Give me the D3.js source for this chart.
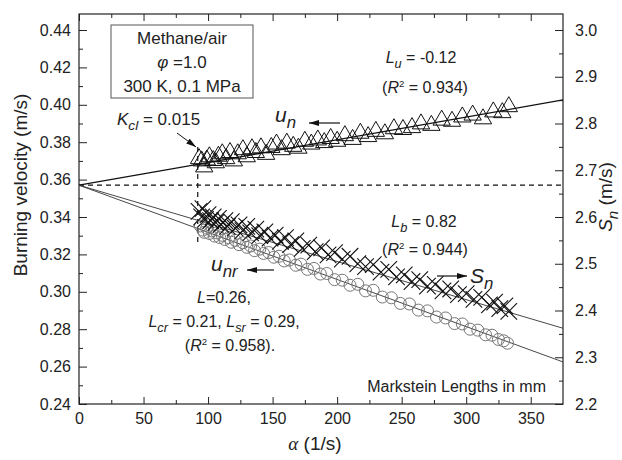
<!DOCTYPE html>
<html>
<head>
<meta charset="utf-8">
<script src="https://cdn.jsdelivr.net/npm/d3@7"></script>
<style>
body { margin: 0; background: #fff; }
text { font-family: "Liberation Sans", Arial, sans-serif; fill: #222; }
</style>
</head>
<body>
<svg id="drawing_region"></svg>
<script>
// u_n (triangles, left axis)
const alphaUn = [93, 95, 97, 99, 101, 104, 106, 108, 111, 114, 117, 120, 123, 127, 130, 134, 137, 141, 145, 149,
    153, 157, 161, 166, 170, 175, 180, 185, 190, 195, 200, 206, 212, 218, 224, 230, 237, 244, 251, 258,
    265, 273, 281, 289, 297, 305, 313, 321, 328, 333];
const unVals = [0.3712, 0.3700, 0.3668, 0.3705, 0.3722, 0.3702, 0.3690, 0.3725, 0.3738, 0.3712, 0.3745, 0.3700,
    0.3738, 0.3760, 0.3722, 0.3765, 0.3745, 0.3770, 0.3735, 0.3772, 0.3790, 0.3760, 0.3795, 0.3778, 0.3768,
    0.3805, 0.3790, 0.3812, 0.3798, 0.3820, 0.3805, 0.3835, 0.3815, 0.3848, 0.3830, 0.3858, 0.3845, 0.3872,
    0.3868, 0.3878, 0.3898, 0.3890, 0.3918, 0.3912, 0.3935, 0.3945, 0.3925, 0.3962, 0.3958, 0.3990];

// S_n (crosses, right axis)
const alphaSn = [93, 95, 96, 98, 100, 102, 104, 106, 108, 110, 113, 115, 118, 121, 124, 127, 130, 133, 137, 140,
    144, 148, 152, 156, 160, 164, 168, 173, 178, 183, 188, 193, 198, 204, 210, 216, 222, 228, 234, 240,
    246, 252, 258, 264, 270, 276, 282, 288, 294, 300, 306, 312, 318, 322, 326, 330, 333];
const snVals = [2.612, 2.600, 2.618, 2.595, 2.605, 2.592, 2.600, 2.588, 2.597, 2.584, 2.592, 2.580, 2.590, 2.576,
    2.583, 2.571, 2.580, 2.566, 2.574, 2.560, 2.568, 2.555, 2.561, 2.548, 2.556, 2.541, 2.549, 2.533, 2.540,
    2.526, 2.534, 2.519, 2.524, 2.510, 2.516, 2.500, 2.494, 2.498, 2.482, 2.488, 2.472, 2.476, 2.462, 2.466,
    2.452, 2.456, 2.442, 2.446, 2.434, 2.436, 2.424, 2.428, 2.412, 2.418, 2.404, 2.410, 2.398];

// u_nr (circles, left axis)
const alphaUnr = [94, 96, 97, 99, 101, 103, 105, 107, 109, 111, 113, 116, 118, 121, 124, 127, 130, 133, 136, 140,
    143, 147, 151, 155, 159, 163, 168, 172, 177, 182, 187, 192, 198, 204, 210, 216, 222, 228, 235, 242,
    249, 256, 263, 270, 277, 284, 291, 297, 303, 309, 315, 320, 325, 329, 332];
const unrVals = [0.3352, 0.3330, 0.3318, 0.3340, 0.3312, 0.3325, 0.3298, 0.3315, 0.3290, 0.3302, 0.3280, 0.3290,
    0.3265, 0.3275, 0.3252, 0.3262, 0.3238, 0.3245, 0.3220, 0.3228, 0.3205, 0.3210, 0.3185, 0.3190, 0.3165,
    0.3170, 0.3142, 0.3148, 0.3120, 0.3125, 0.3095, 0.3098, 0.3065, 0.3062, 0.3035, 0.3040, 0.3005, 0.3008,
    0.2972, 0.2968, 0.2938, 0.2935, 0.2902, 0.2898, 0.2865, 0.2860, 0.2830, 0.2828, 0.2800, 0.2795, 0.2770,
    0.2768, 0.2745, 0.2738, 0.2725];

// fitted lines
const fitAlpha = [0, 375];
const fitUn = [0.357, 0.4026];
const fitSn = [2.668, 2.362];
const fitUnr = [0.357, 0.2625];
const refVelocity = 0.357;
const kclAlpha = 92;
const kclSpan = [0.3261, 0.3774];

// ticks
const xTicks = [0, 50, 100, 150, 200, 250, 300, 350];
const xMinor = [25, 75, 125, 175, 225, 275, 325];
const yTicks = [0.24, 0.26, 0.28, 0.30, 0.32, 0.34, 0.36, 0.38, 0.40, 0.42, 0.44];
const yMinor = [0.25, 0.27, 0.29, 0.31, 0.33, 0.35, 0.37, 0.39, 0.41, 0.43];
const rTicks = [2.2, 2.3, 2.4, 2.5, 2.6, 2.7, 2.8, 2.9, 3.0];
const rMinor = [2.25, 2.35, 2.45, 2.55, 2.65, 2.75, 2.85, 2.95];

const W = 622, H = 460;
const m = {left: 79, right: 563, top: 14, bottom: 404};

const svg = d3.select('#drawing_region')
    .attr('width', W)
    .attr('height', H);

svg.append('rect').attr('width', W).attr('height', H).attr('fill', '#fff');

const defs = svg.append('defs');
defs.append('marker')
    .attr('id', 'ah')
    .attr('markerUnits', 'userSpaceOnUse')
    .attr('markerWidth', 10).attr('markerHeight', 6)
    .attr('refX', 10).attr('refY', 3)
    .attr('orient', 'auto')
    .append('path')
    .attr('d', 'M0,0 L10,3 L0,6 z')
    .attr('fill', '#111');

const xs = d3.scaleLinear().domain([0, 375]).range([m.left, m.right]);
const yl = d3.scaleLinear().domain([0.24, 0.44]).range([m.bottom, 30]);
const yr = d3.scaleLinear().domain([2.2, 3.0]).range([m.bottom, 30]);

// axes
function noDomain(g) { g.select('.domain').remove(); }

svg.append('g').attr('transform', `translate(${m.left},0)`)
    .call(d3.axisLeft(yl).tickValues(yTicks).tickSize(-8).tickPadding(8).tickFormat(d3.format('.2f')))
    .call(noDomain);
svg.append('g').attr('transform', `translate(${m.left},0)`)
    .call(d3.axisLeft(yl).tickValues(yMinor).tickSize(-4).tickFormat(''))
    .call(noDomain);
svg.append('g').attr('transform', `translate(${m.right},0)`)
    .call(d3.axisRight(yr).tickValues(rTicks).tickSize(-8).tickPadding(12).tickFormat(d3.format('.1f')))
    .call(noDomain);
svg.append('g').attr('transform', `translate(${m.right},0)`)
    .call(d3.axisRight(yr).tickValues(rMinor).tickSize(-4).tickFormat(''))
    .call(noDomain);
svg.append('g').attr('transform', `translate(0,${m.bottom})`)
    .call(d3.axisBottom(xs).tickValues(xTicks).tickSize(-7).tickPadding(9))
    .call(noDomain);
svg.append('g').attr('transform', `translate(0,${m.bottom})`)
    .call(d3.axisBottom(xs).tickValues(xMinor).tickSize(-4).tickFormat(''))
    .call(noDomain);
svg.append('g').attr('transform', `translate(0,${m.top})`)
    .call(d3.axisTop(xs).tickValues(xTicks).tickSize(-7).tickFormat(''))
    .call(noDomain);
svg.append('g').attr('transform', `translate(0,${m.top})`)
    .call(d3.axisTop(xs).tickValues(xMinor).tickSize(-4).tickFormat(''))
    .call(noDomain);

svg.selectAll('.tick line').attr('stroke', '#222');
svg.selectAll('.tick text').attr('font-size', 16).attr('fill', '#222');

svg.append('rect')
    .attr('x', m.left).attr('y', m.top)
    .attr('width', m.right - m.left).attr('height', m.bottom - m.top)
    .attr('fill', 'none').attr('stroke', '#222').attr('stroke-width', 1.2);

const plot = svg.append('g');

// reference lines
plot.append('line')
    .attr('x1', xs(0)).attr('x2', xs(375))
    .attr('y1', yl(refVelocity)).attr('y2', yl(refVelocity))
    .attr('stroke', '#111').attr('stroke-width', 1.2).attr('stroke-dasharray', '5,4');
plot.append('line')
    .attr('x1', xs(kclAlpha)).attr('x2', xs(kclAlpha))
    .attr('y1', yl(kclSpan[1])).attr('y2', yl(kclSpan[0]))
    .attr('stroke', '#111').attr('stroke-width', 1.2).attr('stroke-dasharray', '5,4');

// fit lines
const lineL = d3.line().x((d, i) => xs(fitAlpha[i])).y(d => yl(d));
const lineR = d3.line().x((d, i) => xs(fitAlpha[i])).y(d => yr(d));
plot.append('path').attr('d', lineL(fitUn)).attr('fill', 'none').attr('stroke', '#111').attr('stroke-width', 1.2);
plot.append('path').attr('d', lineR(fitSn)).attr('fill', 'none').attr('stroke', '#333').attr('stroke-width', 0.9);
plot.append('path').attr('d', lineL(fitUnr)).attr('fill', 'none').attr('stroke', '#333').attr('stroke-width', 0.9);

// markers
plot.append('g').selectAll('circle')
    .data(unrVals)
    .join('circle')
    .attr('cx', (d, i) => xs(alphaUnr[i]))
    .attr('cy', d => yl(d))
    .attr('r', 6)
    .attr('fill', 'none')
    .attr('stroke', '#777')
    .attr('stroke-width', 1);

const tri = d3.symbol(d3.symbolTriangle, 130);
plot.append('g').selectAll('path')
    .data(unVals)
    .join('path')
    .attr('d', tri)
    .attr('transform', (d, i) => `translate(${xs(alphaUn[i])},${yl(d)})`)
    .attr('fill', 'none')
    .attr('stroke', '#111')
    .attr('stroke-width', 1);

const cross = d3.symbol(d3.symbolTimes, 180);
plot.append('g').selectAll('path')
    .data(snVals)
    .join('path')
    .attr('d', cross)
    .attr('transform', (d, i) => `translate(${xs(alphaSn[i])},${yr(d)})`)
    .attr('fill', 'none')
    .attr('stroke', '#111')
    .attr('stroke-width', 1.1);

// text with italics / sub / superscripts
function rich(x, y, parts, size, anchor, rotate) {
    const t = svg.append('text')
        .attr('x', x).attr('y', y)
        .attr('font-size', size)
        .attr('text-anchor', anchor || 'start');
    if (rotate) t.attr('transform', `rotate(${rotate},${x},${y})`);
    let off = 0;
    parts.forEach(([str, kind]) => {
        const s = t.append('tspan').text(str);
        let d = 0;
        if (kind.includes('i')) s.attr('font-style', 'italic');
        if (kind.includes('b')) { d = size * 0.3; s.attr('font-size', size * 0.8); }
        if (kind.includes('p')) { d = -size * 0.4; s.attr('font-size', size * 0.6); }
        if (kind.includes('g')) s.attr('font-family', '"Liberation Serif", serif');
        if (d !== off) s.attr('dy', d - off);
        off = d;
    });
    return t;
}

// info box
svg.append('rect')
    .attr('x', 111).attr('y', 25).attr('width', 142).attr('height', 73)
    .attr('fill', '#fff').attr('stroke', '#555').attr('stroke-width', 1);
rich(182, 44, [['Methane/air', '']], 17, 'middle');
rich(182, 68, [['φ', 'i'], [' =1.0', '']], 17, 'middle');
rich(182, 92, [['300 K, 0.1 MPa', '']], 17, 'middle');

// annotations
rich(117, 125, [['K', 'i'], ['cl', 'ib'], [' = 0.015', '']], 17, 'start');
svg.append('line').attr('x1', 177).attr('y1', 133).attr('x2', 196).attr('y2', 147)
    .attr('stroke', '#111').attr('stroke-width', 1).attr('marker-end', 'url(#ah)');

rich(421, 63, [['L', 'i'], ['u', 'ib'], [' = -0.12', '']], 16, 'middle');
rich(425, 93, [['(', ''], ['R', 'i'], ['2', 'p'], [' = 0.934)', '']], 16, 'middle');

rich(275, 122, [['u', 'i'], ['n', 'ib']], 21, 'start');
svg.append('line').attr('x1', 340).attr('y1', 123).attr('x2', 309).attr('y2', 123)
    .attr('stroke', '#111').attr('stroke-width', 1.2).attr('marker-end', 'url(#ah)');

rich(424, 227, [['L', 'i'], ['b', 'ib'], [' = 0.82', '']], 16, 'middle');
rich(425, 255, [['(', ''], ['R', 'i'], ['2', 'p'], [' = 0.944)', '']], 16, 'middle');

svg.append('line').attr('x1', 437).attr('y1', 276).attr('x2', 467).attr('y2', 276)
    .attr('stroke', '#111').attr('stroke-width', 1.2).attr('marker-end', 'url(#ah)');
rich(470, 283, [['S', 'i'], ['n', 'ib']], 21, 'start');

rich(211, 271, [['u', 'i'], ['nr', 'ib']], 21, 'start');
svg.append('line').attr('x1', 274).attr('y1', 270).attr('x2', 247).attr('y2', 270)
    .attr('stroke', '#111').attr('stroke-width', 1.2).attr('marker-end', 'url(#ah)');

rich(224, 303, [['L', 'i'], ['=0.26,', '']], 16, 'middle');
rich(224, 327, [['L', 'i'], ['cr', 'ib'], [' = 0.21, ', ''], ['L', 'i'], ['sr', 'ib'], [' = 0.29,', '']], 16, 'middle');
rich(230, 351, [['(', ''], ['R', 'i'], ['2', 'p'], [' = 0.958).', '']], 16, 'middle');

rich(546, 392, [['Markstein Lengths in mm', '']], 16, 'end');

// axis titles
rich(315, 450, [['α', 'ig'], [' (1/s)', '']], 19, 'middle');
rich(27, 185, [['Burning velocity (m/s)', '']], 19, 'middle', -90);
rich(612, 197, [['S', 'i'], ['n', 'ib'], [' (m/s)', '']], 19, 'middle', -90);
</script>
</body>
</html>
